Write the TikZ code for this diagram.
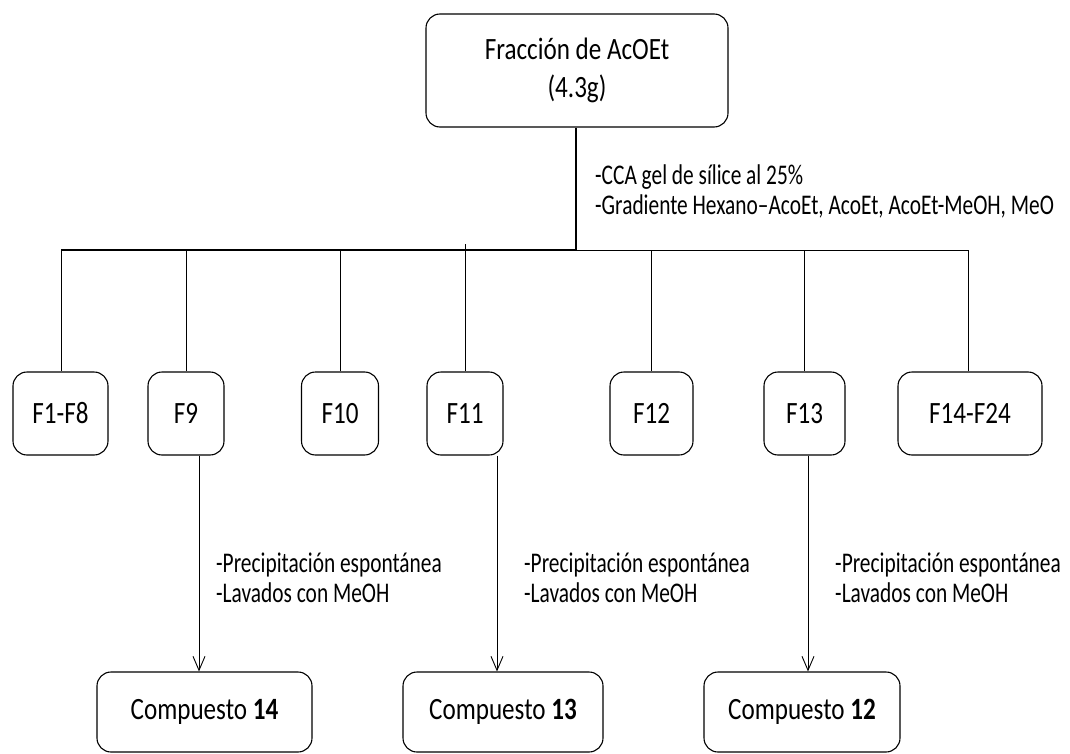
\documentclass[tikz,border=0pt]{standalone}
\usepackage{fontspec}
\setmainfont{Carlito}[FakeStretch=0.75]
\newfontfamily\boxfont{Carlito}[FakeStretch=0.81]
\usetikzlibrary{arrows.meta}
\tikzset{
  box/.style={draw, line width=1.1pt, rounded corners=14pt, inner sep=0pt, align=center,
    font=\boxfont\fontsize{31}{38}\selectfont},
  trunk/.style={line width=1.6pt},
  branch/.style={line width=1pt},
  arr/.style={line width=1pt, -{Straight Barb[length=14pt, width=12pt, line width=0.9pt]}},
  lbl/.style={anchor=west, inner sep=0pt, align=left, font=\fontsize{28.5}{30}\selectfont}
}
\begin{document}
\begin{tikzpicture}[x=1pt, y=-1pt]
\useasboundingbox (0,0) rectangle (1070,754);
% top box
\node[box, minimum width=302pt, minimum height=113pt] (top) at (577,70.5) {Fracción de AcOEt\\(4.3g)};
% fraction boxes
\node[box, minimum width=95pt, minimum height=83pt] (f1) at (60.5,413.5) {F1-F8};
\node[box, minimum width=76pt, minimum height=83pt] (f9) at (186,413.5) {F9};
\node[box, minimum width=77pt, minimum height=83pt] (f10) at (340,413.5) {F10};
\node[box, minimum width=76pt, minimum height=83pt] (f11) at (465,413.5) {F11};
\node[box, minimum width=83pt, minimum height=83pt] (f12) at (651.5,413.5) {F12};
\node[box, minimum width=81pt, minimum height=83pt] (f13) at (804.5,413.5) {F13};
\node[box, minimum width=144pt, minimum height=83pt] (f14) at (970,413.5) {F14-F24};
% compound boxes
\node[box, minimum width=215pt, minimum height=80pt] (c14) at (204.5,712) {Compuesto \textbf{14}};
\node[box, minimum width=200pt, minimum height=80pt] (c13) at (503,712) {Compuesto \textbf{13}};
\node[box, minimum width=196pt, minimum height=80pt] (c12) at (802,712) {Compuesto \textbf{12}};
% trunk
\coordinate (j) at (576,250);
\coordinate (hl) at (61,250);
\coordinate (hr) at (968,250);
\draw[trunk] (top.south -| j) -- (j);
\draw[trunk] (hl) -- (j);
\draw[branch] (j) -- (hr);
% drops
\draw[branch] (hl) -- (f1.north -| hl);
\draw[branch] (f9.north |- hl) -- (f9.north);
\draw[branch] (f10.north |- hl) -- (f10.north);
\draw[branch] ([yshift=6pt]f11.north |- hl) -- (f11.north);
\draw[branch] (f12.north |- hl) -- (f12.north);
\draw[branch] (f13.north |- hl) -- (f13.north);
\draw[branch] (hr) -- (f14.north -| hr);
% labels
\node[lbl] (l0) at (595,191) {-CCA gel de sílice al 25\%\\-Gradiente Hexano–AcoEt, AcoEt, AcoEt-MeOH, MeO};
\node[lbl] (l9) at (216,577.5) {-Precipitación espontánea\\-Lavados con MeOH};
\node[lbl] (l11) at (524,577.5) {-Precipitación espontánea\\-Lavados con MeOH};
\node[lbl] (l13) at (835,577.5) {-Precipitación espontánea\\-Lavados con MeOH};
% arrows
\coordinate (a9) at (199,0);
\coordinate (a11) at (497,0);
\coordinate (a13) at (808,0);
\draw[arr] (f9.south -| a9) -- (c14.north -| a9);
\draw[arr] (f11.south -| a11) -- (c13.north -| a11);
\draw[arr] (f13.south -| a13) -- (c12.north -| a13);
\end{tikzpicture}
\end{document}
